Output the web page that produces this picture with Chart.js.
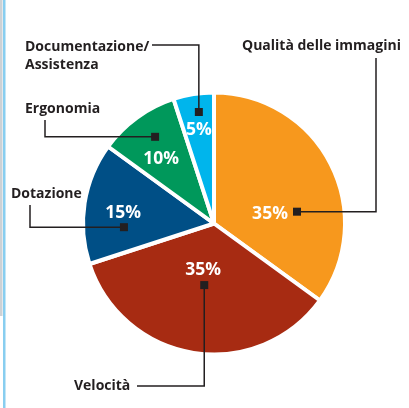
<!DOCTYPE html>
<html>
<head>
<meta charset="utf-8">
<script src="https://cdn.jsdelivr.net/npm/chart.js@4.4.1/dist/chart.umd.min.js"></script>
<style>
  html, body { margin: 0; padding: 0; background: #fff; }
  #wrap { position: relative; width: 409px; height: 408px; }
</style>
</head>
<body>
<div id="wrap"><canvas id="pie-chart" width="409" height="408"></canvas></div>
<script>
// survey: what matters most when buying
const categories = [['Qualità delle immagini'], ['Velocità'], ['Dotazione'], ['Ergonomia'], ['Documentazione/', 'Assistenza']];
const shares = [35, 35, 15, 10, 5];
const sliceColors = ['#F7981D', '#A72B12', '#004F86', '#00985B', '#00B5EC'];

const INK = '#231F20';
const LABEL_FONT = 'bold 14px "Open Sans", sans-serif';
const PCT_FONT = 'bold 17.5px "Open Sans", sans-serif';

// where marker and percent sit inside each slice: fraction along the arc, fraction of radius
// leader: first leg 'h' (to x) or 'v' (to y), then the second leg to the label
const callouts = [
  { marker: [0.65, 0.64], pct: [0.63, 0.435], first: 'h', elbow: 376, end: 58, text: [242, 50] },
  { marker: [0.50, 0.476], pct: [0.535, 0.361], first: 'v', elbow: 386, end: 137, text: [74, 390] },
  { marker: [0.29, 0.688], pct: [0.47, 0.70], first: 'h', elbow: 30, end: 205, text: [11, 198] },
  { marker: [0.55, 0.80], pct: [0.42, 0.643], first: 'h', elbow: 45, end: 120, text: [25, 113] },
  { marker: [0.57, 0.859], pct: [0.50, 0.734], first: 'v', elbow: 45, end: 152, text: [25, 51] }
];

function polar(arc, spec) {
  const a = arc.startAngle + (arc.endAngle - arc.startAngle) * spec[0];
  const r = arc.outerRadius * spec[1];
  return { x: arc.x + Math.cos(a) * r, y: arc.y + Math.sin(a) * r };
}

const sideStripe = {
  id: 'sideStripe',
  beforeDraw(chart) {
    const ctx = chart.ctx;
    ctx.save();
    ctx.fillStyle = '#CDD2D6';
    ctx.fillRect(0, 0, 2.5, 316);
    ctx.fillStyle = '#88CEF0';
    ctx.fillRect(3, 0, 2.5, chart.height);
    ctx.restore();
  }
};

const calloutLabels = {
  id: 'calloutLabels',
  afterDatasetsDraw(chart) {
    const ctx = chart.ctx;
    const arcs = chart.getDatasetMeta(0).data;
    ctx.save();
    arcs.forEach((arc, i) => {
      const c = callouts[i];
      const m = polar(arc, c.marker);
      const p = polar(arc, c.pct);

      // leader line
      ctx.strokeStyle = INK;
      ctx.lineWidth = 1.5;
      ctx.beginPath();
      ctx.moveTo(m.x, m.y);
      if (c.first === 'h') {
        ctx.lineTo(c.elbow, m.y);
        ctx.lineTo(c.elbow, c.end);
      } else {
        ctx.lineTo(m.x, c.elbow);
        ctx.lineTo(c.end, c.elbow);
      }
      ctx.stroke();

      // square marker
      ctx.fillStyle = INK;
      ctx.fillRect(m.x - 4, m.y - 4, 8, 8);

      // percent inside slice
      ctx.fillStyle = '#fff';
      ctx.font = PCT_FONT;
      ctx.textAlign = 'center';
      ctx.textBaseline = 'middle';
      ctx.fillText(shares[i] + '%', p.x, p.y + 1);

      // category label
      ctx.fillStyle = INK;
      ctx.font = LABEL_FONT;
      ctx.textAlign = 'left';
      ctx.textBaseline = 'alphabetic';
      categories[i].forEach((line, k) => {
        ctx.fillText(line, c.text[0], c.text[1] + k * 18);
      });
    });
    ctx.restore();
  }
};

new Chart(document.getElementById('pie-chart'), {
  type: 'pie',
  data: {
    labels: categories.map(l => l.join(' ')),
    datasets: [{
      data: shares,
      backgroundColor: sliceColors,
      borderColor: '#fff',
      borderWidth: 4,
      hoverOffset: 0
    }]
  },
  options: {
    responsive: false,
    animation: false,
    radius: 131,
    layout: { padding: { left: 19, right: 0, top: 39, bottom: 0 } },
    plugins: {
      legend: { display: false },
      tooltip: { enabled: false }
    },
    events: []
  },
  plugins: [sideStripe, calloutLabels]
});
</script>
</body>
</html>
